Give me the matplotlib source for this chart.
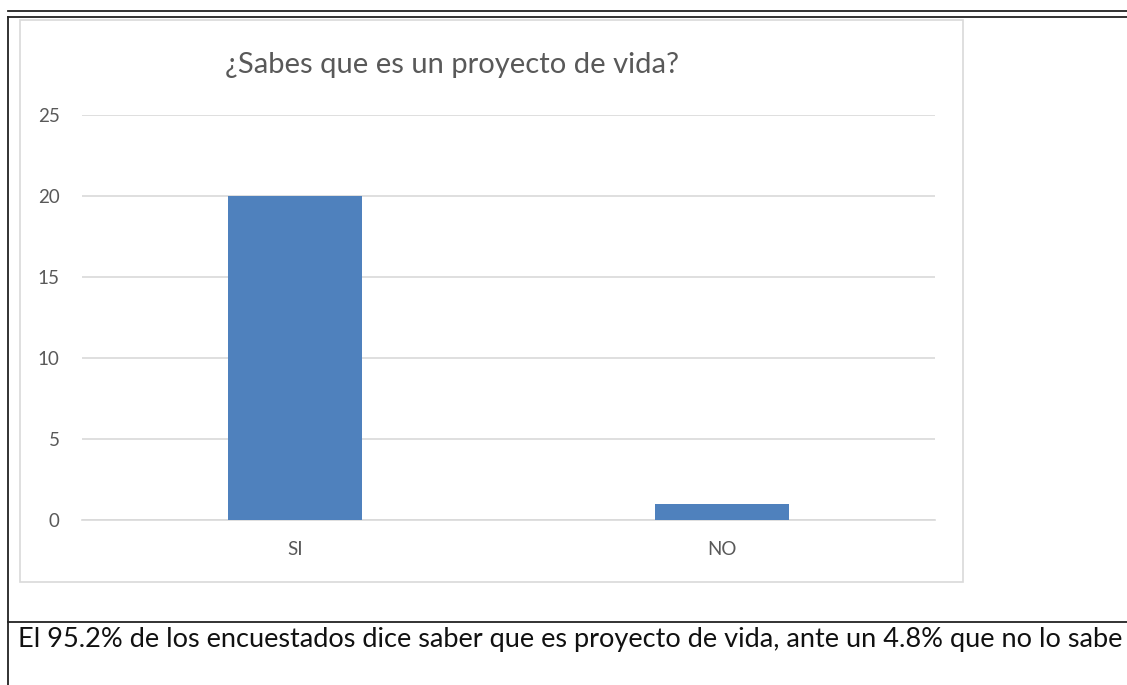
import matplotlib.pyplot as plt
from matplotlib.lines import Line2D
from matplotlib.patches import Rectangle

# data
categories = ["SI", "NO"]
counts = [20, 1]
y_ticks = [0, 5, 10, 15, 20, 25]
title = "¿Sabes que es un proyecto de vida?"
caption = ("El 95.2% de los encuestados dice saber que es proyecto de vida, "
           "ante un 4.8% que no lo sabe")

W, H = 1127, 685
fig = plt.figure(figsize=(W / 100, H / 100), dpi=100)
plt.rcParams['font.family'] = ['Lato', 'DejaVu Sans']

def fx(px):
    return px / W

def fy(py):
    return 1 - py / H

# outer table frame
for y in (11, 17):
    fig.add_artist(Line2D([fx(8), 1], [fy(y), fy(y)], color='#222222', lw=1.3))
fig.add_artist(Line2D([fx(8), fx(8)], [fy(17), 0], color='#222222', lw=1.3))
fig.add_artist(Line2D([fx(8), 1], [fy(622), fy(622)], color='#222222', lw=1.3))

# chart area border
fig.add_artist(Rectangle((fx(20), fy(582)), fx(963) - fx(20), fy(20) - fy(582),
                         fill=False, edgecolor='#D9D9D9', lw=1.2))

ax = fig.add_axes([fx(82), fy(520), fx(935) - fx(82), fy(115) - fy(520)])
x = range(len(categories))
ax.bar(x, counts, width=0.314, color='#4F81BD', zorder=3)
ax.set_xlim(-0.5, len(categories) - 0.5)
ax.set_ylim(0, 25)
ax.set_yticks(y_ticks)
ax.set_xticks(list(x))
ax.set_xticklabels(categories)
ax.yaxis.grid(True, color='#D9D9D9', lw=1.2, zorder=0)
for s in ax.spines.values():
    s.set_visible(False)
ax.spines['bottom'].set_visible(True)
ax.spines['bottom'].set_color('#D9D9D9')
ax.spines['bottom'].set_linewidth(1.2)
ax.tick_params(length=0, labelsize=13.5, colors='#595959')
ax.tick_params(axis='y', pad=16)
ax.tick_params(axis='x', pad=15)

fig.text(fx(452), fy(65), title, ha='center', va='center', fontsize=21, color='#595959')
fig.text(fx(18), fy(640), caption, ha='left', va='center', fontsize=19.5, color='#111111')

fig.savefig('out.png', dpi=100)
